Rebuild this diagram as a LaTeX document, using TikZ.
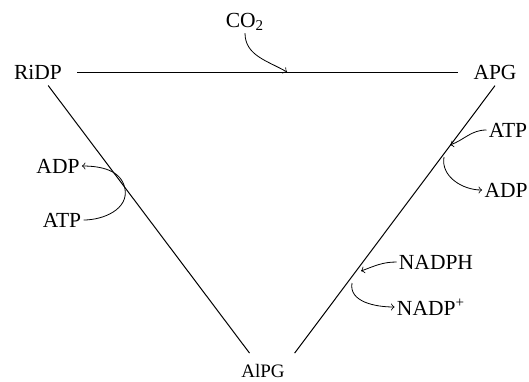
\documentclass[tikz,border=0pt]{standalone}
\usepackage{fontspec}
\setmainfont{Liberation Serif}
\begin{document}
\begin{tikzpicture}[x=0.5pt,y=-0.5pt,font=\fontsize{10.75}{13}\selectfont,
  cyc/.style={inner sep=3pt},
  side/.style={inner sep=1pt},
  link/.style={line width=0.5pt}]
\useasboundingbox (0,0) rectangle (529,381);

\node[cyc] (RiDP) at (38,72) {RiDP};
\node[cyc] (APG) at (495,72) {APG};
\node[cyc, font=\fontsize{9.5}{11}\selectfont] (AlPG) at (263,371) {AlPG};

\node[side] (CO2) at (245,22) {CO\textsubscript{2}};
\node[side] (ADPl) at (58,166) {ADP};
\node[side] (ATPl) at (62,220) {ATP};
\node[side] (ATPr) at (508,130) {ATP};
\node[side] (ADPr) at (506,190) {ADP};
\node[side] (NADPH) at (436,262) {NADPH};
\node[side] (NADP) at (431,307) {NADP\textsuperscript{+}};

\coordinate (c1) at (287,72);
\coordinate (c2) at (125,189);
\coordinate (c3) at (450,145);
\coordinate (c4) at (444,157);
\coordinate (c5) at (361,271);
\coordinate (c6) at (352,283);

\draw[link, shorten <=4.5pt, shorten >=4.5pt] (RiDP) -- (APG);
\draw[link, shorten >=3pt] (RiDP) -- (AlPG);
\draw[link, shorten >=3pt] (APG.south) -- (AlPG.north east);

\draw[->] (CO2.south) to[out=-90,in=150] (c1);
\draw[->] (ATPl.east) to[out=0,in=-80] (c2) to[out=100,in=0] (ADPl.east);
\draw[->] (ATPr.west) to[out=180,in=20] (c3);
\draw[->] (c4) to[out=-100,in=180] (ADPr.west);
\draw[->] (NADPH.west) to[out=180,in=20] (c5);
\draw[->] (c6) to[out=-100,in=180] (NADP.west);
\end{tikzpicture}
\end{document}
